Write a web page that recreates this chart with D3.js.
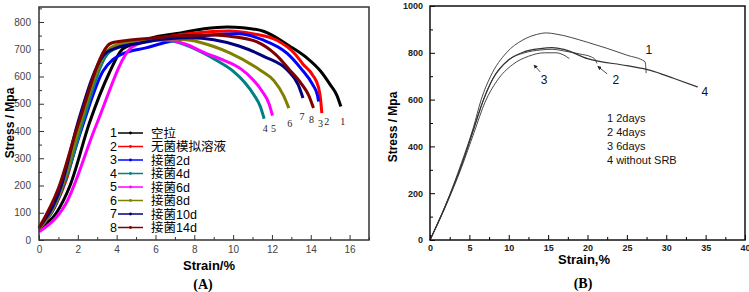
<!DOCTYPE html>
<html>
<head>
<meta charset="utf-8">
<script src="https://cdn.jsdelivr.net/npm/d3@7"></script>
<style>
  body { margin: 0; background: #fff; }
  svg { display: block; }
  .tick-a text { font-family: "Liberation Sans", Arial, sans-serif; font-size: 10px; fill: #444; }
  .tick-b text { font-family: "Liberation Sans", Arial, sans-serif; font-size: 9px; font-weight: bold; fill: #222; }
</style>
</head>
<body>
<div id="chart"></div>
<script>
// ---- data, panel (A) : strain %, stress MPa ----
const curveA1 = [[0,40],[0.9,100],[1.6,200],[2.6,430],[3.6,610],[4.3,700],[5,722],[6,745],[7.3,760],[8.5,775],[9.7,782],[10.5,779],[11.6,765],[12.9,712],[13.8,668],[14.5,620],[15.0,570],[15.35,530],[15.55,490]];
const curveA2 = [[0,40],[0.8,120],[1.4,220],[2.2,430],[3.45,690],[4.2,712],[5,725],[6.5,745],[8,760],[9.8,767],[11,757],[12.25,733],[13.2,682],[13.6,645],[14.1,605],[14.4,560],[14.5,520],[14.57,466]];
const curveA3 = [[0,45],[0.8,120],[1.4,230],[2.25,420],[3.3,620],[3.8,662],[4.4,686],[5.5,705],[6.5,725],[8,745],[10.3,757],[11.5,735],[12.8,684],[13.5,629],[14.1,570],[14.35,530],[14.4,508]];
const curveA4 = [[0,40],[0.8,125],[1.5,250],[2.2,420],[3.5,680],[4,705],[5,725],[6,735],[7,728],[8.3,692],[9.2,657],[10,620],[10.6,578],[11.05,535],[11.4,490],[11.6,445]];
const curveA5 = [[0,30],[1.39,134],[2.94,420],[4.74,705],[5.5,728],[6.5,736],[7.5,720],[8.6,685],[9.5,660],[10.4,628],[11,590],[11.5,545],[11.85,500],[12.03,456]];
const curveA6 = [[0,40],[0.8,125],[1.4,240],[2.1,420],[3.6,700],[4.2,720],[5.5,735],[6.8,738],[7.8,733],[9,710],[9.85,686],[11.4,623],[12.1,585],[12.6,530],[12.87,484]];
const curveA7 = [[0,45],[1.13,195],[2.0,430],[3.35,680],[4,705],[5,720],[6.5,738],[7.8,742],[9,735],[10.3,712],[11.6,673],[12.8,623],[13.35,570],[13.6,521]];
const curveA8 = [[0,45],[1.0,190],[2.0,420],[3.71,722],[4.5,732],[6,742],[7.5,750],[9,752],[10,746],[11.2,728],[12.2,680],[12.9,625],[13.5,575],[13.9,530],[14.14,484]];
const namesA = ["空拉", "无菌模拟溶液", "接菌2d", "接菌4d", "接菌6d", "接菌8d", "接菌10d", "接菌14d"];
const xTicksA = [0, 2, 4, 6, 8, 10, 12, 14, 16];
const yTicksA = [0, 100, 200, 300, 400, 500, 600, 700, 800];

// ---- data, panel (B) ----
const curveB1 = [[0,0],[2,150],[4,330],[5.5,480],[6.5,600],[7.7,700],[9.7,800],[11.8,855],[13.5,878],[14.8,885],[16,880],[20,845],[25,790],[27.3,762],[27.4,740],[27.45,713]];
const curveB2 = [[0,0],[2,150],[4,320],[5.5,470],[6.8,600],[8,690],[10,770],[12,800],[14,812],[15.5,815],[17,808],[19,795],[20.5,782],[21,770],[21.2,755]];
const curveB3 = [[0,0],[2,145],[4,310],[5.6,460],[7,590],[8.5,680],[10.5,750],[12.5,785],[14.5,800],[16,800],[17,790],[17.7,775]];
const curveB4 = [[0,0],[2,150],[4,320],[5.5,470],[6.8,600],[8,690],[10,770],[12,805],[14,818],[15.5,822],[17,815],[20,775],[25,745],[28,725],[31,690],[34,654]];
const namesB = ["1 2days", "2 4days", "3 6days", "4 without SRB"];
const xTicksB = [0, 5, 10, 15, 20, 25, 30, 35, 40];
const yTicksB = [0, 200, 400, 600, 800, 1000];

const WIDTH = 749;
const HEIGHT = 292;
const FRAME_A = { left: 39, right: 369, top: 7, bottom: 240 };
const FRAME_B = { left: 430, right: 745, top: 6, bottom: 240 };
const COLORS_A = ["#000000", "#ff0000", "#0000ff", "#008080", "#ff00ff", "#808000", "#000080", "#800000"];
const SANS = "'Liberation Sans', Arial, 'Noto Sans CJK SC', sans-serif";
const SERIF = "'Liberation Serif', 'Times New Roman', serif";

const svg = d3.select("#chart").append("svg").attr("width", WIDTH).attr("height", HEIGHT);
svg.append("rect").attr("width", WIDTH).attr("height", HEIGHT).attr("fill", "#fff");

drawPanelA();
drawPanelB();

function minorTicks(lo, hi, step) {
  return d3.range(lo, hi + step / 2, step);
}

function drawPanelA() {
  const x = d3.scaleLinear().domain([0, 17]).range([FRAME_A.left, FRAME_A.right]);
  const y = d3.scaleLinear().domain([0, 855]).range([FRAME_A.bottom, FRAME_A.top]);
  const g = svg.append("g");

  // minor ticks
  g.append("g").attr("transform", `translate(0,${FRAME_A.bottom})`)
    .call(d3.axisBottom(x).tickValues(minorTicks(1, 17, 2)).tickSize(-3).tickFormat(""))
    .call((s) => s.select(".domain").remove())
    .selectAll("line").attr("stroke", "#333");
  g.append("g").attr("transform", `translate(${FRAME_A.left},0)`)
    .call(d3.axisLeft(y).tickValues(minorTicks(50, 850, 100)).tickSize(-3).tickFormat(""))
    .call((s) => s.select(".domain").remove())
    .selectAll("line").attr("stroke", "#333");

  // major ticks
  g.append("g").attr("class", "tick-a").attr("transform", `translate(0,${FRAME_A.bottom})`)
    .call(d3.axisBottom(x).tickValues(xTicksA).tickSize(-5).tickPadding(6))
    .call((s) => s.select(".domain").remove())
    .selectAll("line").attr("stroke", "#333");
  g.append("g").attr("class", "tick-a").attr("transform", `translate(${FRAME_A.left},0)`)
    .call(d3.axisLeft(y).tickValues(yTicksA).tickSize(-5).tickPadding(8))
    .call((s) => s.select(".domain").remove())
    .selectAll("line").attr("stroke", "#333");

  const line = d3.line().x((d) => x(d[0])).y((d) => y(d[1])).curve(d3.curveMonotoneX);
  const curves = [curveA1, curveA2, curveA3, curveA4, curveA5, curveA6, curveA7, curveA8];

  g.append("g").selectAll("path").data(curves).join("path")
    .attr("d", line)
    .attr("fill", "none")
    .attr("stroke", (d, i) => COLORS_A[i])
    .attr("stroke-width", 3)
    .attr("stroke-linejoin", "round");

  // frame
  g.append("rect")
    .attr("x", FRAME_A.left).attr("y", FRAME_A.top)
    .attr("width", FRAME_A.right - FRAME_A.left).attr("height", FRAME_A.bottom - FRAME_A.top)
    .attr("fill", "none").attr("stroke", "#333").attr("stroke-width", 1.5);

  // end labels of the curves, placed below each curve end
  const labelDx = [2, 5, 2, 1, 1, 1, -1, -2];
  const labelDy = [19, 12, 25, 13, 16, 19, 22, 15];
  g.append("g").selectAll("text").data(curves).join("text")
    .attr("x", (d, i) => x(d[d.length - 1][0]) + labelDx[i])
    .attr("y", (d, i) => y(d[d.length - 1][1]) + labelDy[i])
    .attr("text-anchor", "middle")
    .attr("font-family", SERIF).attr("font-size", 10).attr("fill", "#222")
    .text((d, i) => i + 1);

  // legend
  const legend = g.append("g").attr("font-family", SANS).attr("font-size", 12.5);
  const rows = legend.selectAll("g").data(namesA).join("g")
    .attr("transform", (d, i) => `translate(0,${133 + i * 13.5})`);
  rows.append("text").attr("x", 117).attr("dy", "0.35em").attr("text-anchor", "end").text((d, i) => i + 1);
  rows.append("line").attr("x1", 118).attr("x2", 143)
    .attr("stroke", (d, i) => COLORS_A[i]).attr("stroke-width", 1.5);
  rows.append("circle").attr("cx", 130.5).attr("r", 1.4).attr("fill", (d, i) => COLORS_A[i]);
  rows.append("text").attr("x", 151).attr("dy", "0.36em").text((d) => d);

  // axis titles
  svg.append("text")
    .attr("transform", "translate(14,123) rotate(-90)")
    .attr("text-anchor", "middle")
    .attr("font-family", SANS).attr("font-size", 12).attr("font-weight", "bold")
    .text("Stress / Mpa");
  svg.append("text")
    .attr("x", 209).attr("y", 270)
    .attr("text-anchor", "middle")
    .attr("font-family", SANS).attr("font-size", 13).attr("font-weight", "bold")
    .text("Strain/%");
  svg.append("text")
    .attr("x", 203).attr("y", 289)
    .attr("text-anchor", "middle")
    .attr("font-family", SERIF).attr("font-size", 14).attr("font-weight", "bold")
    .text("(A)");
}

function drawPanelB() {
  const x = d3.scaleLinear().domain([0, 40]).range([FRAME_B.left, FRAME_B.right]);
  const y = d3.scaleLinear().domain([0, 1000]).range([FRAME_B.bottom, FRAME_B.top]);
  const g = svg.append("g");

  g.append("g").attr("transform", `translate(0,${FRAME_B.bottom})`)
    .call(d3.axisBottom(x).tickValues(minorTicks(2.5, 37.5, 5)).tickSize(-3).tickFormat(""))
    .call((s) => s.select(".domain").remove());
  g.append("g").attr("transform", `translate(${FRAME_B.left},0)`)
    .call(d3.axisLeft(y).tickValues(minorTicks(100, 900, 200)).tickSize(-3).tickFormat(""))
    .call((s) => s.select(".domain").remove());

  g.append("g").attr("class", "tick-b").attr("transform", `translate(0,${FRAME_B.bottom})`)
    .call(d3.axisBottom(x).tickValues(xTicksB).tickSize(-5).tickPadding(5).tickFormat(d3.format("d")))
    .call((s) => s.select(".domain").remove());
  g.append("g").attr("class", "tick-b").attr("transform", `translate(${FRAME_B.left},0)`)
    .call(d3.axisLeft(y).tickValues(yTicksB).tickSize(-5).tickPadding(7).tickFormat(d3.format("d")))
    .call((s) => s.select(".domain").remove());

  const line = d3.line().x((d) => x(d[0])).y((d) => y(d[1])).curve(d3.curveMonotoneX);
  const curves = [curveB1, curveB2, curveB3, curveB4];

  g.append("g").selectAll("path").data(curves).join("path")
    .attr("d", line)
    .attr("fill", "none")
    .attr("stroke", "#333")
    .attr("stroke-width", (d, i) => (i === 3 ? 1.2 : 0.9));

  g.append("rect")
    .attr("x", FRAME_B.left).attr("y", FRAME_B.top)
    .attr("width", FRAME_B.right - FRAME_B.left).attr("height", FRAME_B.bottom - FRAME_B.top)
    .attr("fill", "none").attr("stroke", "#111").attr("stroke-width", 1.5);

  // curve labels and arrows (data units)
  const notes = [
    { t: "1", at: [27.8, 812] },
    { t: "2", at: [23.6, 684], tip: [21.3, 742], from: [22.5, 710] },
    { t: "3", at: [14.5, 684], tip: [13.2, 748], from: [14.0, 718] },
    { t: "4", at: [34.9, 635] }
  ];
  svg.append("defs").append("marker")
    .attr("id", "arrow").attr("viewBox", "0 0 10 10").attr("refX", 9).attr("refY", 5)
    .attr("markerWidth", 5).attr("markerHeight", 5).attr("orient", "auto")
    .append("path").attr("d", "M0,0L10,5L0,10z").attr("fill", "#222");
  g.selectAll("text.note").data(notes).join("text").attr("class", "note")
    .attr("x", (d) => x(d.at[0])).attr("y", (d) => y(d.at[1]))
    .attr("dy", "0.35em").attr("text-anchor", "middle")
    .attr("font-family", SANS).attr("font-size", 12).attr("fill", "#111")
    .text((d) => d.t);
  g.selectAll("line.arrow").data(notes.filter((d) => d.tip)).join("line").attr("class", "arrow")
    .attr("x1", (d) => x(d.from[0])).attr("y1", (d) => y(d.from[1]))
    .attr("x2", (d) => x(d.tip[0])).attr("y2", (d) => y(d.tip[1]))
    .attr("stroke", "#222").attr("stroke-width", 0.8).attr("marker-end", "url(#arrow)");

  g.append("g").attr("font-family", SANS).attr("font-size", 11).attr("fill", "#111")
    .selectAll("text").data(namesB).join("text")
    .attr("x", 607).attr("y", (d, i) => 118 + i * 14).attr("dy", "0.35em")
    .text((d) => d);

  svg.append("text")
    .attr("transform", "translate(397,127) rotate(-90)")
    .attr("text-anchor", "middle")
    .attr("font-family", SANS).attr("font-size", 12).attr("font-weight", "bold")
    .text("Stress / Mpa");
  svg.append("text")
    .attr("x", 584).attr("y", 264)
    .attr("text-anchor", "middle")
    .attr("font-family", SANS).attr("font-size", 13).attr("font-weight", "bold")
    .text("Strain,%");
  svg.append("text")
    .attr("x", 583).attr("y", 288)
    .attr("text-anchor", "middle")
    .attr("font-family", SERIF).attr("font-size", 14).attr("font-weight", "bold")
    .text("(B)");
}
</script>
</body>
</html>
